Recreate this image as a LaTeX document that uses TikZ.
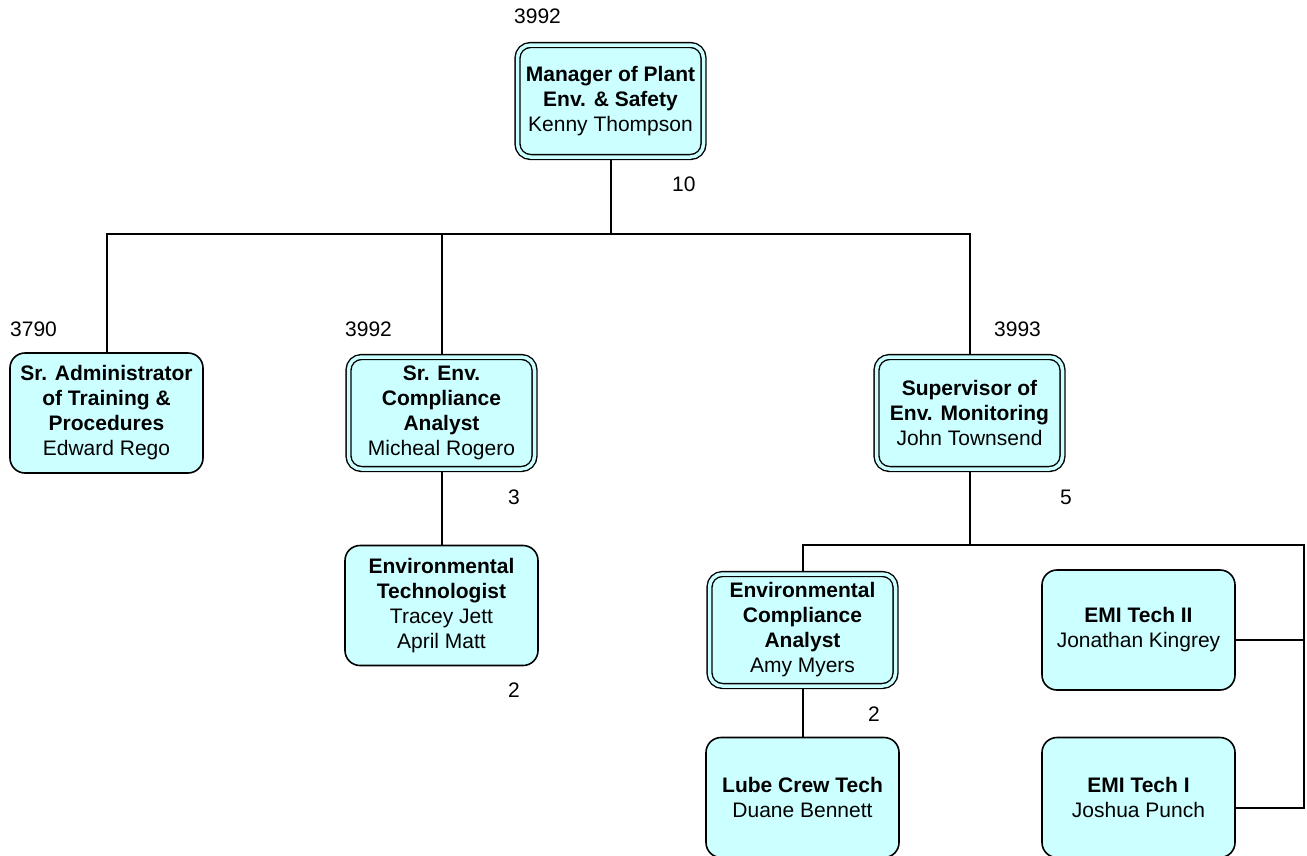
\documentclass[tikz,border=0pt]{standalone}
\usepackage{fontspec}
\setmainfont{Liberation Sans}
\usetikzlibrary{backgrounds}
\definecolor{boxfill}{HTML}{CCFFFF}
\tikzset{
  card/.style={draw=black, line width=1.6pt, fill=boxfill, rounded corners=15pt,
    minimum width=193pt, minimum height=120pt, align=center, inner sep=2pt,
    font=\fontsize{21}{25}\selectfont},
  dcard/.style={card, double=boxfill, double distance=3.5pt, line width=1.4pt,
    minimum width=186pt, minimum height=112pt, rounded corners=13pt},
  num/.style={anchor=west, inner sep=0pt, font=\fontsize{21}{25}\selectfont},
  link/.style={draw=black, line width=2pt}
}
\begin{document}
\begin{tikzpicture}[x=1pt,y=-1pt]
\clip (0,0) rectangle (1307,855);
\useasboundingbox (0,0) rectangle (1307,855);
\node[dcard] (top) at (610.5,101) {\textbf{Manager of Plant}\\\textbf{Env. \& Safety}\\Kenny Thompson};
\node[card] (admin) at (106.5,413) {\textbf{Sr. Administrator}\\\textbf{of Training \&}\\\textbf{Procedures}\\Edward Rego};
\node[dcard] (senv) at (441.5,413) {\textbf{Sr. Env.}\\\textbf{Compliance}\\\textbf{Analyst}\\Micheal Rogero};
\node[dcard] (sup) at (969.5,413) {\textbf{Supervisor of}\\\textbf{Env. Monitoring}\\John Townsend};
\node[card] (envtech) at (441.5,605.5) {\textbf{Environmental}\\\textbf{Technologist}\\Tracey Jett\\April Matt};
\node[dcard] (eca) at (802.5,630) {\textbf{Environmental}\\\textbf{Compliance}\\\textbf{Analyst}\\Amy Myers};
\node[card] (emi2) at (1138.5,630) {\textbf{EMI Tech II}\\Jonathan Kingrey};
\node[card] (lube) at (802.5,797.5) {\textbf{Lube Crew Tech}\\Duane Bennett};
\node[card] (emi1) at (1138.5,797.5) {\textbf{EMI Tech I}\\Joshua Punch};

\coordinate (bus1) at (0,234);
\coordinate (bus2) at (0,545);
\coordinate (rt) at (1304,545);

\begin{scope}[on background layer]
\draw[link] (top.south) -- (top.south |- bus1);
\draw[link] (admin.north) |- (sup.north |- bus1) -- (sup.north);
\draw[link] (senv.north) -- (senv.north |- bus1);
\draw[link] (senv.south) -- (envtech.north);
\draw[link] (sup.south) -- (sup.south |- bus2);
\draw[link] (eca.north) |- (rt) |- ([yshift=-10pt]emi1.east);
\draw[link] ([yshift=-10pt]emi2.east) -- ([yshift=-10pt]emi2.east -| rt);
\draw[link] (eca.south) -- (lube.north);
\end{scope}

\node[num] (n1) at (514,16) {3992};
\node[num] (n2) at (672,184) {10};
\node[num] (n3) at (10,329) {3790};
\node[num] (n4) at (345,329) {3992};
\node[num] (n5) at (994,329) {3993};
\node[num] (n6) at (508,497) {3};
\node[num] (n7) at (1060,497) {5};
\node[num] (n8) at (508,690) {2};
\node[num] (n9) at (868,714) {2};
\end{tikzpicture}
\end{document}
